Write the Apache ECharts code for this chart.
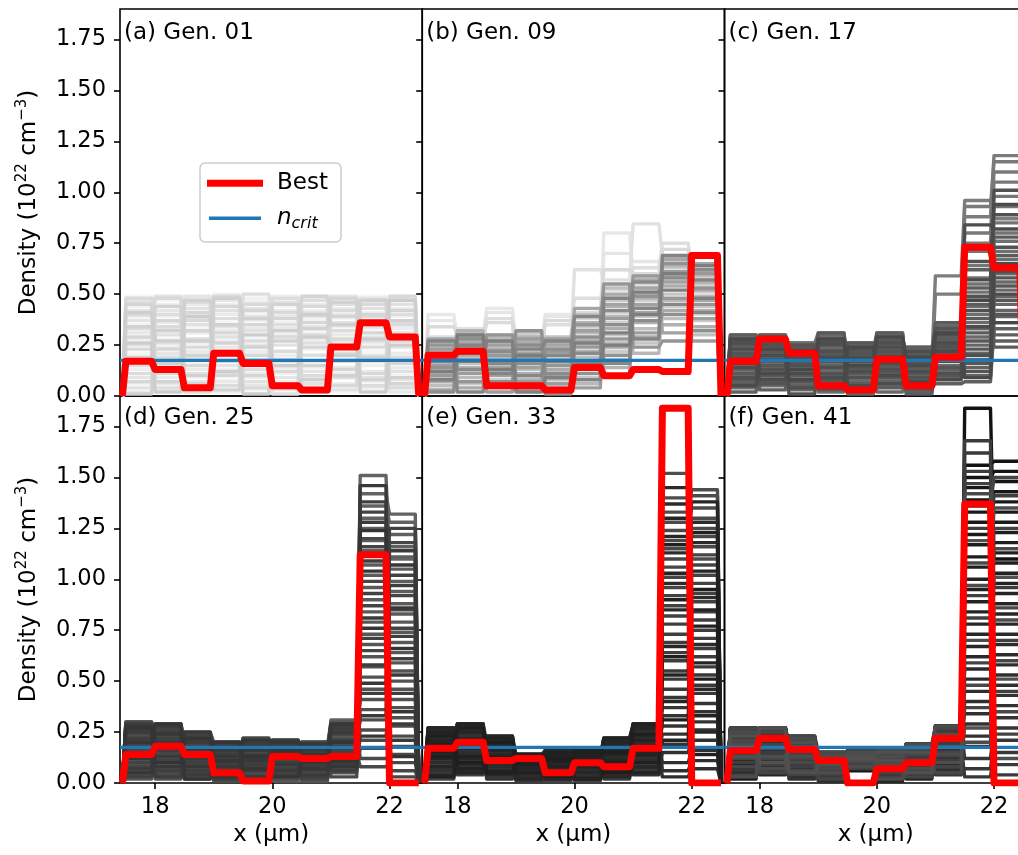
<!DOCTYPE html>
<html><head><meta charset="utf-8">
<script src="https://cdn.jsdelivr.net/npm/echarts@6/dist/echarts.min.js"></script>
<style>html,body{margin:0;padding:0;background:#fff}#chart{width:1018px;height:855px}</style>
</head><body><div id="chart"></div>
<script>
// ---------------- DATA ----------------
const panelLabels = ['(a) Gen. 01', '(b) Gen. 09', '(c) Gen. 17', '(d) Gen. 25', '(e) Gen. 33', '(f) Gen. 41'];
const binEdges = [17.47, 17.97, 18.47, 18.97, 19.47, 19.97, 20.47, 20.97, 21.47, 21.97, 22.47];
const xRange = [17.4, 22.56];
const yRange = [0, 1.9];
const xTicks = [18, 20, 22];
const yTicks = [0, 0.25, 0.5, 0.75, 1.0, 1.25, 1.5, 1.75];
const nCrit = 0.175;
const legendNames = ['Best', 'n_crit'];

const bestA = [0.17, 0.13, 0.04, 0.21, 0.16, 0.05, 0.03, 0.24, 0.36, 0.29];
const bestB = [0.20, 0.22, 0.05, 0.05, 0.03, 0.14, 0.10, 0.13, 0.12, 0.69];
const bestC = [0.17, 0.28, 0.21, 0.05, 0.03, 0.18, 0.05, 0.19, 0.73, 0.63];
const bestD = [0.14, 0.18, 0.14, 0.05, 0.01, 0.13, 0.12, 0.13, 1.12, 0.00];
const bestE = [0.17, 0.20, 0.11, 0.12, 0.05, 0.10, 0.08, 0.17, 1.84, 0.00];
const bestF = [0.16, 0.22, 0.165, 0.11, 0.00, 0.07, 0.10, 0.22, 1.37, 0.00];

const popA = [
[0.49,0.12,0.33,0.08,0.41,0.27,0.05,0.38,0.22,0.46],
[0.21,0.47,0.09,0.36,0.15,0.44,0.31,0.02,0.49,0.18],
[0.35,0.28,0.48,0.19,0.03,0.11,0.42,0.25,0.07,0.39],
[0.06,0.39,0.17,0.50,0.29,0.36,0.14,0.47,0.33,0.10],
[0.44,0.03,0.26,0.13,0.48,0.07,0.37,0.19,0.41,0.28],
[0.13,0.33,0.40,0.27,0.09,0.49,0.23,0.34,0.15,0.05],
[0.28,0.18,0.04,0.45,0.37,0.20,0.48,0.11,0.26,0.43],
[0.39,0.45,0.31,0.02,0.22,0.30,0.09,0.43,0.04,0.33],
[0.02,0.24,0.45,0.32,0.46,0.14,0.28,0.06,0.37,0.21],
[0.47,0.09,0.13,0.40,0.11,0.42,0.02,0.30,0.46,0.14],
[0.18,0.36,0.22,0.07,0.33,0.03,0.45,0.40,0.12,0.48],
[0.31,0.06,0.38,0.24,0.05,0.33,0.17,0.14,0.29,0.02],
[0.09,0.42,0.07,0.47,0.25,0.39,0.34,0.49,0.20,0.36],
[0.42,0.21,0.49,0.15,0.43,0.09,0.12,0.27,0.48,0.08],
[0.25,0.49,0.19,0.34,0.18,0.25,0.41,0.03,0.09,0.31],
[0.37,0.15,0.35,0.11,0.39,0.46,0.06,0.36,0.34,0.24],
[0.04,0.30,0.43,0.29,0.07,0.17,0.39,0.21,0.43,0.45],
[0.46,0.26,0.11,0.42,0.32,0.01,0.26,0.45,0.17,0.12],
[0.15,0.04,0.28,0.20,0.50,0.35,0.47,0.09,0.27,0.40],
[0.33,0.40,0.02,0.38,0.13,0.48,0.20,0.32,0.05,0.19],
[0.11,0.19,0.46,0.05,0.27,0.22,0.30,0.17,0.39,0.04],
[0.48,0.34,0.24,0.49,0.04,0.29,0.10,0.42,0.24,0.35],
[0.23,0.11,0.37,0.17,0.45,0.12,0.44,0.05,0.45,0.27],
[0.40,0.48,0.15,0.31,0.20,0.41,0.03,0.28,0.11,0.49],
[0.07,0.23,0.41,0.10,0.35,0.06,0.36,0.48,0.31,0.16],
[0.29,0.37,0.06,0.44,0.10,0.38,0.24,0.13,0.40,0.06],
[0.45,0.07,0.32,0.26,0.42,0.18,0.49,0.39,0.08,0.42],
[0.19,0.44,0.20,0.03,0.24,0.45,0.15,0.24,0.35,0.30],
[0.34,0.16,0.47,0.35,0.16,0.27,0.33,0.46,0.19,0.09],
[0.01,0.32,0.10,0.48,0.38,0.04,0.08,0.10,0.47,0.37],
[0.41,0.27,0.27,0.22,0.01,0.32,0.40,0.35,0.02,0.25],
[0.26,0.02,0.39,0.12,0.30,0.15,0.29,0.20,0.28,0.47]
];
const popB = [
[0.40,0.27,0.43,0.20,0.40,0.36,0.80,0.58,0.45,0.55],
[0.37,0.31,0.41,0.28,0.39,0.33,0.70,0.66,0.52,0.47],
[0.25,0.33,0.30,0.32,0.28,0.62,0.57,0.845,0.69,0.40],
[0.29,0.21,0.38,0.26,0.35,0.48,0.52,0.63,0.75,0.62],
[0.34,0.30,0.36,0.15,0.37,0.41,0.62,0.60,0.72,0.58],
[0.28,0.25,0.18,0.30,0.22,0.38,0.49,0.55,0.66,0.63],
[0.27,0.12,0.24,0.09,0.19,0.28,0.41,0.52,0.61,0.51],
[0.18,0.29,0.08,0.22,0.27,0.15,0.36,0.47,0.57,0.64],
[0.09,0.19,0.28,0.31,0.05,0.34,0.22,0.58,0.44,0.37],
[0.24,0.06,0.15,0.18,0.24,0.09,0.47,0.39,0.63,0.55],
[0.13,0.27,0.21,0.05,0.12,0.25,0.30,0.26,0.50,0.44],
[0.21,0.16,0.04,0.27,0.29,0.40,0.18,0.44,0.68,0.59],
[0.05,0.31,0.26,0.13,0.16,0.19,0.53,0.33,0.38,0.30],
[0.26,0.09,0.12,0.24,0.08,0.31,0.26,0.50,0.59,0.49],
[0.16,0.23,0.29,0.08,0.21,0.06,0.39,0.21,0.47,0.61],
[0.11,0.14,0.19,0.29,0.26,0.22,0.14,0.48,0.64,0.42],
[0.22,0.32,0.06,0.17,0.03,0.36,0.44,0.36,0.35,0.56],
[0.07,0.20,0.23,0.11,0.18,0.13,0.33,0.57,0.54,0.34],
[0.19,0.04,0.27,0.26,0.13,0.27,0.50,0.29,0.42,0.52],
[0.28,0.26,0.14,0.03,0.25,0.43,0.24,0.41,0.67,0.47],
[0.03,0.18,0.10,0.21,0.10,0.17,0.45,0.53,0.31,0.65],
[0.15,0.29,0.25,0.14,0.28,0.32,0.10,0.45,0.56,0.38],
[0.23,0.11,0.02,0.28,0.06,0.04,0.38,0.31,0.61,0.27],
[0.10,0.24,0.20,0.07,0.22,0.24,0.28,0.59,0.48,0.60],
[0.25,0.07,0.30,0.19,0.15,0.35,0.55,0.24,0.27,0.45],
[0.14,0.21,0.17,0.32,0.01,0.11,0.20,0.49,0.65,0.53],
[0.02,0.28,0.07,0.16,0.23,0.29,0.35,0.37,0.40,0.32],
[0.20,0.13,0.22,0.25,0.11,0.21,0.42,0.56,0.58,0.62],
[0.17,0.02,0.16,0.10,0.20,0.39,0.16,0.43,0.45,0.41],
[0.27,0.25,0.11,0.23,0.27,0.08,0.48,0.28,0.69,0.57],
[0.08,0.17,0.27,0.02,0.09,0.26,0.31,0.51,0.52,0.48],
[0.12,0.30,0.13,0.20,0.17,0.16,0.25,0.40,0.60,0.64]
];
const popC = [
[0.30,0.22,0.18,0.10,0.20,0.12,0.17,0.59,0.96,0.87],
[0.25,0.30,0.21,0.27,0.08,0.31,0.11,0.50,0.88,1.18],
[0.18,0.24,0.26,0.31,0.16,0.22,0.20,0.36,0.93,1.15],
[0.28,0.13,0.09,0.19,0.26,0.08,0.24,0.30,0.80,1.10],
[0.12,0.29,0.22,0.06,0.12,0.27,0.06,0.33,0.75,1.05],
[0.22,0.18,0.14,0.24,0.22,0.16,0.14,0.22,0.71,0.98],
[0.07,0.26,0.25,0.13,0.05,0.29,0.21,0.28,0.64,0.93],
[0.26,0.09,0.19,0.29,0.18,0.05,0.09,0.35,0.58,0.85],
[0.15,0.21,0.06,0.16,0.24,0.24,0.18,0.18,0.55,0.80],
[0.29,0.16,0.24,0.02,0.10,0.19,0.04,0.26,0.51,0.76],
[0.10,0.27,0.12,0.22,0.21,0.13,0.23,0.12,0.47,0.71],
[0.21,0.05,0.20,0.28,0.03,0.30,0.13,0.32,0.44,0.67],
[0.04,0.23,0.26,0.09,0.25,0.10,0.16,0.24,0.40,0.63],
[0.24,0.14,0.08,0.25,0.14,0.21,0.02,0.15,0.36,0.60],
[0.17,0.28,0.17,0.12,0.07,0.26,0.19,0.29,0.33,0.56],
[0.27,0.11,0.23,0.30,0.19,0.02,0.10,0.20,0.29,0.52],
[0.09,0.20,0.03,0.18,0.23,0.17,0.22,0.34,0.25,0.49],
[0.20,0.25,0.15,0.05,0.13,0.28,0.07,0.09,0.21,0.45],
[0.13,0.07,0.21,0.23,0.01,0.14,0.15,0.27,0.18,0.42],
[0.28,0.19,0.11,0.15,0.17,0.23,0.12,0.13,0.14,0.39],
[0.02,0.30,0.24,0.27,0.24,0.07,0.20,0.31,0.10,0.36],
[0.23,0.12,0.05,0.10,0.09,0.20,0.05,0.06,0.07,0.33],
[0.16,0.24,0.18,0.20,0.20,0.11,0.24,0.23,0.62,0.30],
[0.30,0.03,0.25,0.07,0.15,0.25,0.08,0.17,0.53,0.27],
[0.06,0.17,0.10,0.26,0.06,0.04,0.17,0.36,0.45,0.24],
[0.19,0.27,0.20,0.14,0.22,0.31,0.01,0.21,0.38,0.69],
[0.11,0.10,0.13,0.31,0.11,0.15,0.14,0.28,0.31,0.78],
[0.25,0.22,0.07,0.03,0.26,0.09,0.21,0.10,0.27,0.54],
[0.14,0.15,0.22,0.21,0.04,0.27,0.11,0.25,0.23,0.47],
[0.27,0.29,0.16,0.17,0.18,0.18,0.03,0.14,0.16,0.40],
[0.08,0.06,0.25,0.08,0.14,0.12,0.19,0.33,0.12,0.58],
[0.21,0.26,0.01,0.25,0.21,0.22,0.16,0.19,0.49,0.73],
[0.19,0.13,0.23,0.11,0.17,0.20,0.09,0.24,0.66,0.89],
[0.09,0.25,0.15,0.22,0.09,0.13,0.18,0.11,0.42,1.01],
[0.26,0.18,0.04,0.14,0.23,0.26,0.05,0.30,0.20,0.61],
[0.14,0.08,0.19,0.26,0.12,0.06,0.22,0.17,0.84,0.82],
[0.23,0.28,0.11,0.09,0.19,0.24,0.12,0.26,0.34,0.50],
[0.05,0.20,0.22,0.19,0.05,0.16,0.15,0.08,0.57,0.94],
[0.28,0.11,0.13,0.04,0.24,0.10,0.07,0.22,0.09,0.65],
[0.16,0.23,0.08,0.28,0.15,0.29,0.19,0.31,0.47,0.36]
];
const popD = [
[0.30,0.22,0.12,0.09,0.15,0.06,0.14,0.20,1.51,1.10],
[0.24,0.29,0.18,0.14,0.04,0.18,0.07,0.31,1.42,1.32],
[0.17,0.15,0.25,0.04,0.19,0.12,0.17,0.13,1.36,1.28],
[0.27,0.26,0.08,0.18,0.10,0.21,0.04,0.26,1.30,1.22],
[0.11,0.19,0.21,0.11,0.22,0.09,0.20,0.18,1.25,1.16],
[0.21,0.09,0.15,0.20,0.07,0.15,0.11,0.29,1.19,1.11],
[0.06,0.24,0.23,0.07,0.16,0.03,0.16,0.10,1.14,1.05],
[0.29,0.13,0.04,0.16,0.12,0.19,0.02,0.23,1.07,0.99],
[0.15,0.28,0.19,0.02,0.20,0.11,0.19,0.16,1.02,0.94],
[0.23,0.05,0.11,0.13,0.02,0.20,0.09,0.28,0.96,0.88],
[0.09,0.21,0.24,0.19,0.14,0.07,0.13,0.07,0.90,0.83],
[0.26,0.17,0.06,0.08,0.18,0.16,0.06,0.21,0.84,0.79],
[0.19,0.11,0.17,0.15,0.05,0.01,0.18,0.30,0.79,0.74],
[0.02,0.25,0.22,0.05,0.21,0.14,0.10,0.12,0.73,0.69],
[0.25,0.07,0.13,0.19,0.09,0.20,0.15,0.25,0.68,0.64],
[0.13,0.22,0.02,0.10,0.13,0.10,0.01,0.17,0.62,0.59],
[0.28,0.16,0.20,0.17,0.01,0.17,0.20,0.09,0.57,0.55],
[0.18,0.02,0.10,0.03,0.17,0.05,0.12,0.27,0.52,0.50],
[0.04,0.27,0.16,0.12,0.11,0.13,0.08,0.14,0.46,0.46],
[0.22,0.12,0.25,0.20,0.20,0.21,0.17,0.22,0.41,0.41],
[0.10,0.20,0.07,0.06,0.06,0.08,0.05,0.05,0.36,0.37],
[0.27,0.08,0.18,0.14,0.15,0.18,0.14,0.19,0.31,0.32],
[0.14,0.23,0.13,0.01,0.19,0.02,0.19,0.11,0.26,0.28],
[0.20,0.14,0.09,0.18,0.03,0.12,0.03,0.24,0.21,0.23],
[0.07,0.29,0.21,0.09,0.14,0.19,0.11,0.08,0.17,0.18],
[0.30,0.10,0.03,0.16,0.08,0.06,0.16,0.29,0.12,0.14],
[0.16,0.18,0.14,0.04,0.21,0.15,0.07,0.15,0.08,0.10],
[0.24,0.04,0.22,0.13,0.12,0.11,0.18,0.03,1.20,0.06],
[0.12,0.26,0.05,0.20,0.04,0.20,0.10,0.20,0.99,0.03],
[0.28,0.15,0.19,0.07,0.16,0.04,0.14,0.26,0.65,1.18],
[0.08,0.21,0.11,0.11,0.22,0.16,0.02,0.12,0.87,0.92],
[0.19,0.06,0.24,0.15,0.10,0.09,0.20,0.17,1.33,0.76],
[0.21,0.19,0.09,0.12,0.17,0.14,0.09,0.16,1.16,0.85],
[0.10,0.27,0.18,0.06,0.08,0.19,0.15,0.24,0.93,1.02],
[0.26,0.11,0.23,0.17,0.19,0.07,0.06,0.09,0.71,1.25],
[0.03,0.22,0.10,0.09,0.02,0.13,0.18,0.28,1.38,0.61],
[0.18,0.06,0.16,0.19,0.14,0.17,0.03,0.13,0.44,0.72],
[0.29,0.25,0.06,0.02,0.09,0.10,0.13,0.21,1.09,0.44],
[0.13,0.16,0.21,0.14,0.20,0.04,0.19,0.06,0.58,0.97],
[0.22,0.03,0.14,0.10,0.06,0.21,0.08,0.27,1.28,0.29],
[0.07,0.28,0.04,0.18,0.12,0.12,0.16,0.18,0.33,1.14],
[0.25,0.13,0.20,0.05,0.18,0.18,0.04,0.10,0.81,0.53],
[0.15,0.20,0.12,0.16,0.03,0.06,0.12,0.25,1.46,0.21],
[0.28,0.08,0.25,0.08,0.16,0.15,0.19,0.14,0.49,0.86],
[0.05,0.24,0.08,0.13,0.11,0.09,0.07,0.29,1.04,1.07],
[0.20,0.17,0.17,0.03,0.21,0.20,0.14,0.08,0.23,0.35],
[0.12,0.29,0.02,0.20,0.07,0.03,0.10,0.20,0.76,0.66],
[0.27,0.10,0.22,0.11,0.13,0.16,0.17,0.11,1.24,0.13]
];
const popE = [
[0.27,0.22,0.13,0.08,0.12,0.06,0.17,0.29,1.52,1.10],
[0.21,0.29,0.20,0.14,0.05,0.16,0.10,0.22,1.33,1.44],
[0.15,0.17,0.23,0.05,0.16,0.11,0.22,0.14,1.40,1.41],
[0.25,0.24,0.08,0.11,0.09,0.14,0.05,0.27,1.28,1.35],
[0.09,0.27,0.17,0.13,0.14,0.08,0.19,0.19,1.24,1.30],
[0.19,0.12,0.21,0.03,0.03,0.16,0.13,0.25,1.19,1.25],
[0.05,0.20,0.05,0.10,0.12,0.03,0.20,0.11,1.15,1.21],
[0.27,0.08,0.15,0.14,0.16,0.12,0.08,0.29,1.10,1.16],
[0.13,0.25,0.11,0.07,0.07,0.15,0.15,0.17,1.06,1.12],
[0.23,0.16,0.19,0.12,0.10,0.05,0.21,0.24,1.01,1.07],
[0.02,0.29,0.09,0.02,0.15,0.13,0.03,0.09,0.96,1.02],
[0.18,0.10,0.22,0.09,0.01,0.09,0.18,0.21,0.92,0.98],
[0.26,0.21,0.03,0.13,0.13,0.16,0.11,0.13,0.87,0.93],
[0.11,0.14,0.16,0.06,0.08,0.01,0.22,0.28,0.82,0.89],
[0.21,0.27,0.12,0.14,0.11,0.12,0.06,0.18,0.78,0.84],
[0.07,0.04,0.20,0.11,0.04,0.07,0.16,0.06,0.73,0.80],
[0.24,0.19,0.07,0.04,0.16,0.14,0.02,0.26,0.69,0.75],
[0.16,0.26,0.18,0.12,0.10,0.10,0.19,0.15,0.64,0.71],
[0.27,0.13,0.14,0.08,0.06,0.16,0.09,0.23,0.60,0.66],
[0.04,0.23,0.23,0.14,0.14,0.04,0.14,0.10,0.55,0.62],
[0.20,0.08,0.10,0.01,0.02,0.11,0.21,0.20,0.51,0.57],
[0.12,0.28,0.19,0.10,0.12,0.15,0.07,0.29,0.46,0.53],
[0.25,0.16,0.06,0.13,0.16,0.08,0.12,0.12,0.42,0.48],
[0.08,0.22,0.21,0.07,0.09,0.13,0.18,0.25,0.37,0.44],
[0.22,0.11,0.13,0.12,0.05,0.02,0.04,0.07,0.33,0.39],
[0.14,0.29,0.02,0.05,0.11,0.16,0.20,0.22,0.28,0.35],
[0.26,0.06,0.17,0.14,0.15,0.10,0.10,0.16,0.24,0.30],
[0.10,0.18,0.22,0.09,0.07,0.14,0.16,0.27,0.19,0.26],
[0.17,0.24,0.09,0.11,0.13,0.06,0.08,0.04,0.15,0.21],
[0.06,0.14,0.15,0.03,0.04,0.12,0.22,0.19,0.10,0.16],
[0.23,0.27,0.11,0.13,0.14,0.15,0.13,0.24,0.06,0.11],
[0.19,0.10,0.20,0.06,0.10,0.09,0.17,0.13,0.03,0.07],
[0.20,0.15,0.17,0.10,0.13,0.12,0.19,0.20,1.37,0.91],
[0.10,0.26,0.08,0.13,0.06,0.07,0.12,0.26,1.13,1.28],
[0.26,0.09,0.21,0.04,0.15,0.15,0.06,0.11,0.98,0.68],
[0.04,0.22,0.14,0.12,0.09,0.03,0.21,0.18,1.45,0.46],
[0.17,0.28,0.04,0.08,0.12,0.14,0.09,0.28,0.85,1.18],
[0.24,0.12,0.19,0.14,0.02,0.10,0.16,0.08,0.67,0.25],
[0.12,0.19,0.12,0.02,0.16,0.16,0.03,0.23,1.21,1.38],
[0.27,0.05,0.23,0.11,0.10,0.05,0.14,0.15,0.40,0.85],
[0.08,0.25,0.06,0.13,0.14,0.12,0.20,0.27,1.03,0.59],
[0.21,0.17,0.16,0.07,0.05,0.08,0.11,0.05,0.53,1.04],
[0.15,0.29,0.10,0.14,0.13,0.16,0.18,0.21,1.30,0.33],
[0.25,0.07,0.22,0.10,0.08,0.02,0.07,0.14,0.21,0.77],
[0.03,0.21,0.13,0.05,0.15,0.13,0.22,0.29,0.90,1.23],
[0.19,0.13,0.18,0.13,0.11,0.09,0.10,0.10,0.62,0.14],
[0.13,0.27,0.05,0.09,0.03,0.15,0.15,0.24,1.17,0.51],
[0.23,0.10,0.20,0.12,0.12,0.11,0.05,0.18,0.31,0.95]
];
const popF = [
[0.26,0.20,0.12,0.09,0.13,0.07,0.15,0.28,1.84,1.10],
[0.21,0.27,0.19,0.15,0.06,0.15,0.09,0.21,1.56,1.58],
[0.15,0.16,0.23,0.05,0.15,0.11,0.19,0.14,1.50,1.53],
[0.24,0.24,0.07,0.12,0.09,0.16,0.04,0.26,1.45,1.48],
[0.09,0.27,0.16,0.15,0.14,0.08,0.17,0.19,1.39,1.43],
[0.19,0.12,0.21,0.03,0.15,0.13,0.12,0.25,1.33,1.38],
[0.05,0.19,0.05,0.10,0.11,0.03,0.18,0.11,1.28,1.33],
[0.27,0.08,0.15,0.14,0.16,0.12,0.08,0.28,1.22,1.28],
[0.13,0.25,0.11,0.07,0.12,0.16,0.14,0.17,1.17,1.23],
[0.23,0.16,0.19,0.13,0.10,0.05,0.19,0.24,1.11,1.18],
[0.02,0.27,0.09,0.02,0.15,0.14,0.03,0.09,1.06,1.13],
[0.18,0.10,0.22,0.09,0.13,0.09,0.17,0.21,1.00,1.08],
[0.26,0.21,0.03,0.15,0.14,0.16,0.11,0.13,0.95,1.03],
[0.11,0.14,0.16,0.06,0.08,0.01,0.19,0.27,0.89,0.98],
[0.21,0.27,0.12,0.14,0.12,0.12,0.06,0.18,0.84,0.93],
[0.07,0.04,0.20,0.11,0.15,0.07,0.15,0.06,0.78,0.88],
[0.24,0.19,0.07,0.04,0.16,0.14,0.02,0.26,0.73,0.83],
[0.16,0.26,0.18,0.12,0.10,0.10,0.18,0.15,0.67,0.78],
[0.27,0.13,0.14,0.08,0.13,0.16,0.09,0.23,0.62,0.73],
[0.04,0.23,0.23,0.15,0.14,0.04,0.14,0.10,0.56,0.68],
[0.20,0.08,0.10,0.01,0.11,0.11,0.19,0.20,0.51,0.63],
[0.12,0.27,0.19,0.10,0.16,0.15,0.07,0.28,0.45,0.58],
[0.25,0.16,0.06,0.13,0.12,0.08,0.12,0.12,0.40,0.53],
[0.08,0.22,0.21,0.07,0.14,0.13,0.17,0.25,0.34,0.48],
[0.22,0.11,0.13,0.12,0.10,0.02,0.04,0.07,0.29,0.43],
[0.14,0.27,0.02,0.05,0.13,0.16,0.18,0.22,0.23,0.38],
[0.26,0.06,0.17,0.14,0.15,0.10,0.10,0.16,0.18,0.32],
[0.10,0.18,0.22,0.09,0.11,0.14,0.15,0.27,0.12,0.27],
[0.17,0.24,0.09,0.11,0.14,0.06,0.08,0.04,0.07,0.21],
[0.06,0.14,0.15,0.03,0.12,0.12,0.19,0.19,0.03,0.15],
[0.23,0.27,0.11,0.13,0.15,0.15,0.13,0.24,1.62,0.09],
[0.19,0.10,0.20,0.06,0.10,0.09,0.17,0.13,1.68,0.04],
[0.20,0.15,0.17,0.10,0.13,0.12,0.17,0.20,1.53,0.96],
[0.10,0.26,0.08,0.14,0.07,0.07,0.12,0.26,1.25,1.41],
[0.26,0.09,0.21,0.04,0.15,0.15,0.06,0.11,0.92,0.70],
[0.04,0.22,0.14,0.12,0.09,0.03,0.19,0.18,1.47,0.45],
[0.17,0.27,0.04,0.08,0.12,0.14,0.09,0.27,0.81,1.25],
[0.24,0.12,0.19,0.15,0.14,0.10,0.16,0.08,0.59,0.24],
[0.12,0.19,0.12,0.02,0.16,0.16,0.03,0.23,1.36,1.50],
[0.27,0.05,0.23,0.11,0.10,0.05,0.14,0.15,0.37,0.86],
[0.08,0.25,0.06,0.14,0.14,0.12,0.18,0.27,1.08,0.60],
[0.21,0.17,0.16,0.07,0.11,0.08,0.11,0.05,0.48,1.15],
[0.15,0.27,0.10,0.15,0.13,0.16,0.17,0.21,1.42,0.35],
[0.25,0.07,0.22,0.10,0.08,0.02,0.07,0.14,0.20,0.80],
[0.03,0.21,0.13,0.05,0.15,0.13,0.19,0.28,0.97,1.35],
[0.19,0.13,0.18,0.13,0.11,0.09,0.10,0.10,0.70,0.12],
[0.13,0.27,0.05,0.09,0.13,0.15,0.15,0.24,1.19,0.51],
[0.23,0.10,0.20,0.12,0.12,0.11,0.05,0.18,0.27,1.01]
];

const bests = [bestA, bestB, bestC, bestD, bestE, bestF];
const pops = [popA, popB, popC, popD, popE, popF];

// ---------------- STYLE / LAYOUT ----------------
const FONT = 'DejaVu Sans';
const panelLeft = [120, 422.2, 724.5];
const panelTop = [9, 396];
const panelW = 302.3, panelH = 387;
const shadeRange = [[246, 205], [232, 125], [125, 72], [100, 52], [78, 30], [18, 80]];
const titleTop = [22, 407];
const RED = '#ff0000', BLUE = '#1f77b4';

function stepPoints(vals) {
  const h = 0.03;
  const pts = [[binEdges[0] - h, 0], [binEdges[0] + h, vals[0]]];
  for (let k = 1; k < vals.length; k++) {
    pts.push([binEdges[k] - h, vals[k - 1]]);
    pts.push([binEdges[k] + h, vals[k]]);
  }
  const n = vals.length;
  pts.push([binEdges[n] - h, vals[n - 1]]);
  pts.push([binEdges[n] + h, 0]);
  return pts;
}
function grayHex(v) {
  const c = Math.round(v).toString(16).padStart(2, '0');
  return '#' + c + c + c;
}

const grids = [], xAxes = [], yAxes = [], series = [], titles = [];
for (let p = 0; p < 6; p++) {
  const row = Math.floor(p / 3), col = p % 3;
  grids.push({
    left: panelLeft[col], top: panelTop[row], width: panelW, height: panelH,
    show: true, borderColor: '#000', borderWidth: 1.6, backgroundColor: 'transparent',
    containLabel: false, outerBoundsMode: 'none'
  });
  const bottomRow = row === 1;
  xAxes.push({
    type: 'value', gridIndex: p, min: xRange[0], max: xRange[1],
    axisLine: { show: false }, splitLine: { show: false },
    axisTick: { show: bottomRow, customValues: xTicks, length: 6, lineStyle: { color: '#000', width: 1.6 } },
    axisLabel: { show: bottomRow, customValues: xTicks, margin: 13, color: '#000', fontSize: 22.5, fontFamily: FONT,
      formatter: v => String(v) },
    name: bottomRow ? 'x (µm)' : '', nameLocation: 'middle', nameGap: 41,
    nameTextStyle: { color: '#000', fontSize: 23, fontFamily: FONT }
  });
  const firstCol = col === 0;
  yAxes.push({
    type: 'value', gridIndex: p, min: yRange[0], max: yRange[1],
    axisLine: { show: false }, splitLine: { show: false },
    axisTick: { show: true, customValues: yTicks, length: 6, lineStyle: { color: '#000', width: 1.6 } },
    axisLabel: { show: firstCol, customValues: yTicks, margin: 14, color: '#000', fontSize: 22.5, fontFamily: FONT,
      formatter: v => v.toFixed(2) },
    name: firstCol ? '{t|Density (10}{s|22}{t| cm}{s|−3}{t|)}' : '',
    nameLocation: 'middle', nameGap: 79,
    nameTextStyle: {
      color: '#000', fontSize: 23, fontFamily: FONT,
      rich: {
        t: { fontSize: 23, lineHeight: 26, fontFamily: FONT, color: '#000', verticalAlign: 'bottom' },
        s: { fontSize: 15, lineHeight: 15, fontFamily: FONT, color: '#000', verticalAlign: 'top' }
      }
    }
  });
  titles.push({
    text: panelLabels[p], left: panelLeft[col] + 4, top: titleTop[row], padding: 0,
    textStyle: { fontSize: 23, fontWeight: 'normal', color: '#000', fontFamily: FONT }
  });
  const [s0, s1] = shadeRange[p];
  const pop = pops[p];
  pop.forEach((vals, i) => {
    const shade = s0 + (s1 - s0) * i / (pop.length - 1);
    series.push({
      type: 'line', name: 'population', xAxisIndex: p, yAxisIndex: p,
      data: stepPoints(vals), symbol: 'none', showSymbol: false, silent: true,
      lineStyle: { color: grayHex(shade), width: 3.4, join: 'round' },
      z: 2, animation: false
    });
  });
  series.push({
    type: 'line', name: legendNames[1], xAxisIndex: p, yAxisIndex: p,
    data: [[xRange[0], nCrit], [xRange[1], nCrit]], symbol: 'none', silent: true,
    itemStyle: { color: BLUE }, lineStyle: { color: BLUE, width: 3.4 }, z: 3, animation: false
  });
  series.push({
    type: 'line', name: legendNames[0], xAxisIndex: p, yAxisIndex: p,
    data: stepPoints(bests[p]), symbol: 'none', silent: true,
    itemStyle: { color: RED }, lineStyle: { color: RED, width: 7, join: 'round' }, z: 4, animation: false
  });
}

// legend box drawn as graphic (matplotlib-style frame inside panel a)
const LG = { x: 200, y: 163, w: 141, h: 79, row1: 183.3, row2: 218.3, lineX0: 207, lineX1: 263, textX: 277 };
const graphic = [
  { type: 'rect', z: 100, silent: true,
    shape: { x: LG.x, y: LG.y, width: LG.w, height: LG.h, r: 5 },
    style: { fill: 'rgba(255,255,255,0.8)', stroke: '#cccccc', lineWidth: 1.5 } },
  { type: 'line', z: 101, silent: true,
    shape: { x1: LG.lineX0, y1: LG.row1, x2: LG.lineX1, y2: LG.row1 },
    style: { stroke: RED, lineWidth: 7, lineCap: 'butt' } },
  { type: 'line', z: 101, silent: true,
    shape: { x1: LG.lineX0 + 2, y1: LG.row2, x2: LG.lineX1 - 2, y2: LG.row2 },
    style: { stroke: BLUE, lineWidth: 3.4, lineCap: 'butt' } },
  { type: 'text', z: 101, silent: true, x: LG.textX, y: LG.row1,
    style: { text: legendNames[0], fill: '#000', fontSize: 23, fontFamily: FONT, verticalAlign: 'middle', align: 'left' } },
  { type: 'text', z: 101, silent: true, x: LG.textX, y: LG.row2,
    style: { text: '{i|n}{sub|crit}', fill: '#000', fontSize: 23, fontFamily: FONT, verticalAlign: 'middle', align: 'left',
      rich: {
        i: { fontSize: 23, lineHeight: 28, fontFamily: FONT, fontStyle: 'italic', fill: '#000', verticalAlign: 'middle' },
        sub: { fontSize: 16, lineHeight: 16, fontFamily: FONT, fontStyle: 'italic', fill: '#000', verticalAlign: 'bottom' }
      } } }
];

const chart = echarts.init(document.getElementById('chart'), null, { renderer: 'canvas' });
chart.setOption({
  animation: false,
  backgroundColor: '#fff',
  title: titles,
  grid: grids,
  xAxis: xAxes,
  yAxis: yAxes,
  graphic: graphic,
  series: series
});
</script>
</body></html>
